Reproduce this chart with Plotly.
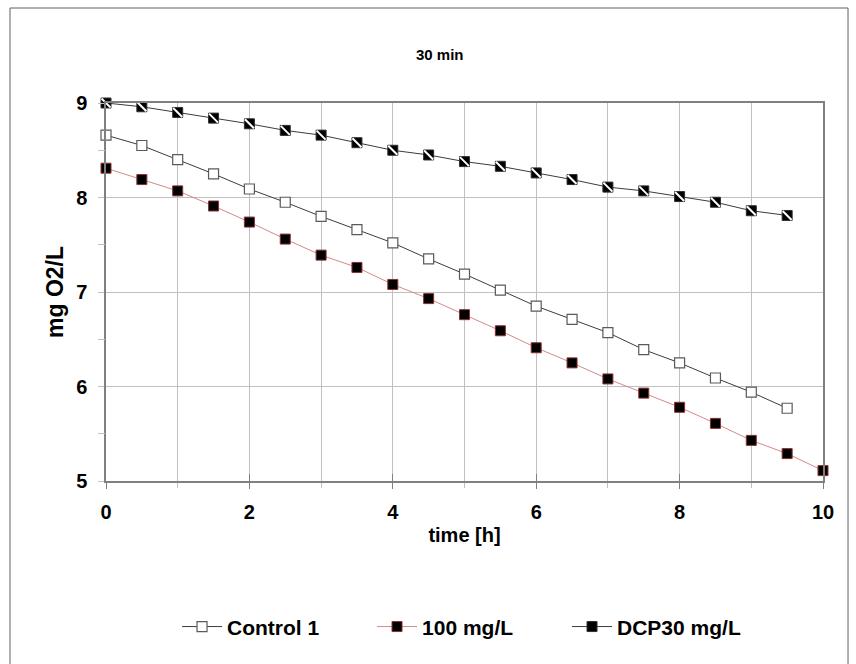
import plotly.graph_objects as go

# ---- data ----
time_control = [0, 0.5, 1, 1.5, 2, 2.5, 3, 3.5, 4, 4.5, 5, 5.5, 6, 6.5, 7, 7.5, 8, 8.5, 9, 9.5]
control_1 = [8.66, 8.55, 8.40, 8.25, 8.09, 7.95, 7.80, 7.66, 7.52, 7.35,
             7.19, 7.02, 6.85, 6.71, 6.57, 6.39, 6.25, 6.09, 5.94, 5.77]

time_100 = [0, 0.5, 1, 1.5, 2, 2.5, 3, 3.5, 4, 4.5, 5, 5.5, 6, 6.5, 7, 7.5, 8, 8.5, 9, 9.5, 10]
mg_100 = [8.31, 8.19, 8.07, 7.91, 7.74, 7.56, 7.39, 7.26, 7.08, 6.93,
          6.76, 6.59, 6.41, 6.25, 6.08, 5.93, 5.78, 5.61, 5.43, 5.29, 5.11]

time_dcp = [0, 0.5, 1, 1.5, 2, 2.5, 3, 3.5, 4, 4.5, 5, 5.5, 6, 6.5, 7, 7.5, 8, 8.5, 9, 9.5]
dcp30 = [9.00, 8.96, 8.90, 8.84, 8.78, 8.71, 8.66, 8.58, 8.50, 8.45,
         8.38, 8.33, 8.26, 8.19, 8.11, 8.07, 8.01, 7.95, 7.86, 7.81]

series_names = ["Control 1", "100 mg/L", "DCP30 mg/L"]
x_tick_vals = [0, 2, 4, 6, 8, 10]
y_tick_vals = [5, 6, 7, 8, 9]
x_cross_ticks = [2, 4, 6, 8]
y_cross_ticks = [5.5, 6.5, 7.5, 8.5]

FONT = "Liberation Sans, Arial, sans-serif"
AX = "#808080"
GRID = "#c0c0c0"

fig = go.Figure()

fig.add_trace(go.Scatter(
    x=time_control, y=control_1, name=series_names[0], mode="lines+markers",
    line=dict(color="#3c3c3c", width=1),
    marker=dict(symbol="square", size=10, color="white", line=dict(color="#5a5a5a", width=1.2)),
    cliponaxis=False))

fig.add_trace(go.Scatter(
    x=time_100, y=mg_100, name=series_names[1], mode="lines+markers",
    line=dict(color="#d38a8a", width=1),
    marker=dict(symbol="square", size=10, color="black", line=dict(color="#8a3030", width=1)),
    cliponaxis=False))

fig.add_trace(go.Scatter(
    x=time_dcp, y=dcp30, name=series_names[2], mode="lines+markers",
    line=dict(color="#3c3c3c", width=1),
    marker=dict(symbol="square", size=10, color="black", line=dict(color="#303030", width=1)),
    cliponaxis=False))
# white diagonal stripe to imitate hatched marker
fig.add_trace(go.Scatter(
    x=time_dcp, y=dcp30, mode="markers", showlegend=False, hoverinfo="skip",
    marker=dict(symbol="line-nw", size=9, line=dict(color="white", width=2)),
    cliponaxis=False))

# dummy traces for overlay axes (crossing ticks)
fig.add_trace(go.Scatter(x=[None], y=[None], xaxis="x2", yaxis="y", showlegend=False, hoverinfo="skip"))
fig.add_trace(go.Scatter(x=[None], y=[None], xaxis="x", yaxis="y2", showlegend=False, hoverinfo="skip"))

fig.update_layout(
    width=856, height=664,
    margin=dict(l=106, r=33, t=103, b=183),
    paper_bgcolor="white", plot_bgcolor="white",
    font=dict(family=FONT, color="black"),
    showlegend=True,
    legend=dict(orientation="h", x=0.507, xanchor="center", y=-0.386, yanchor="middle",
                font=dict(size=21, weight="bold", family=FONT), itemwidth=40,
                entrywidth=140, entrywidthmode="pixels",
                bgcolor="rgba(0,0,0,0)"),
    xaxis=dict(
        range=[0, 10], tickvals=x_tick_vals, showgrid=False, zeroline=False,
        showline=True, linecolor=AX, linewidth=1.5, mirror=True,
        ticks="outside", ticklen=6, tickcolor=AX, tickwidth=1,
        ticklabelstandoff=6,
        tickfont=dict(size=20, weight="bold", family=FONT),
        title=dict(text="time [h]", font=dict(size=20, weight="bold", family=FONT), standoff=6),
        minor=dict(dtick=1, showgrid=True, gridcolor=GRID, gridwidth=1,
                   ticks="outside", ticklen=5, tickcolor=GRID),
    ),
    xaxis2=dict(
        range=[0, 10], overlaying="x", anchor="y", side="bottom",
        tickvals=x_cross_ticks, ticks="inside", ticklen=7, tickcolor=AX, tickwidth=1,
        showticklabels=False, showgrid=False, zeroline=False, showline=False,
    ),
    yaxis=dict(
        range=[5, 9], tickvals=y_tick_vals, showgrid=True, gridcolor=GRID, gridwidth=1,
        zeroline=False, showline=True, linecolor=AX, linewidth=1.5, mirror=True,
        ticks="outside", ticklen=6, tickcolor=GRID, tickwidth=1,
        ticklabelstandoff=7,
        tickfont=dict(size=20, weight="bold", family=FONT),
        title=dict(text="mg O2/L", font=dict(size=23, weight="bold", family=FONT), standoff=6),
    ),
    yaxis2=dict(
        range=[5, 9], overlaying="y", anchor="x", side="left",
        tickvals=y_cross_ticks, ticks="outside", ticklen=7, tickcolor=GRID, tickwidth=1,
        showticklabels=False, showgrid=False, zeroline=False, showline=False,
    ),
    annotations=[dict(text="30 min", xref="paper", yref="paper", x=0.466, y=1.127,
                      xanchor="center", yanchor="middle", showarrow=False,
                      font=dict(size=15, weight="bold", family=FONT))],
    shapes=[dict(type="rect", xref="paper", yref="paper",
                 x0=-0.1339, x1=1.0349, y0=-0.5, y1=1.2513,
                 line=dict(color="#606060", width=1), fillcolor="rgba(0,0,0,0)", layer="below")],
)

fig.write_html("out.html")
